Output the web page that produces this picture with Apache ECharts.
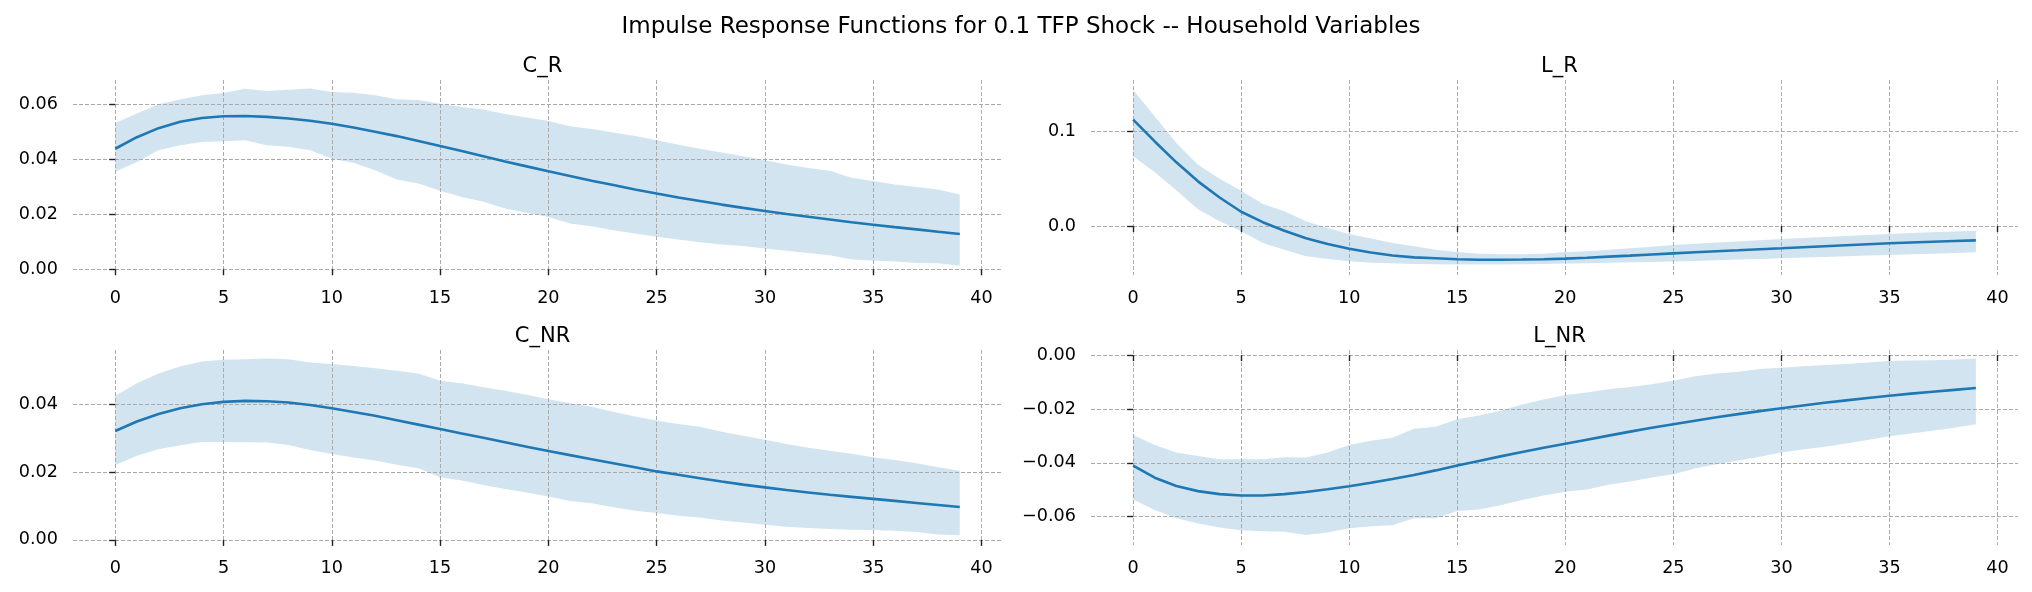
<!DOCTYPE html>
<html>
<head>
<meta charset="utf-8">
<script src="https://cdn.jsdelivr.net/npm/echarts@6/dist/echarts.min.js"></script>
<style>
html,body{margin:0;padding:0;background:#fff;}
#chart{width:2032px;height:592px;}
</style>
</head>
<body>
<div id="chart"></div>
<script>
const steps = [0,1,2,3,4,5,6,7,8,9,10,11,12,13,14,15,16,17,18,19,20,21,22,23,24,25,26,27,28,29,30,31,32,33,34,35,36,37,38,39];
const xTicks = [0,5,10,15,20,25,30,35,40];

const cR_mid = [0.0438,0.0480,0.0513,0.0536,0.0550,0.0556,0.0557,0.0554,0.0548,0.0540,0.0529,0.0515,0.0500,0.0484,0.0466,0.0448,0.0430,0.0411,0.0392,0.0374,0.0356,0.0339,0.0322,0.0306,0.0290,0.0275,0.0261,0.0248,0.0235,0.0223,0.0212,0.0201,0.0191,0.0181,0.0171,0.0162,0.0153,0.0145,0.0136,0.0128];
const cR_up = [0.0532,0.0566,0.0600,0.0617,0.0633,0.0641,0.0656,0.0648,0.0653,0.0657,0.0644,0.0642,0.0633,0.0618,0.0615,0.0602,0.0590,0.0581,0.0564,0.0552,0.0539,0.0520,0.0510,0.0497,0.0484,0.0469,0.0453,0.0438,0.0424,0.0411,0.0396,0.0381,0.0368,0.0358,0.0333,0.0321,0.0308,0.0299,0.0290,0.0272];
const cR_lo = [0.0354,0.0390,0.0433,0.0451,0.0463,0.0465,0.0469,0.0451,0.0445,0.0433,0.0402,0.0387,0.0360,0.0326,0.0312,0.0285,0.0263,0.0245,0.0221,0.0205,0.0190,0.0166,0.0156,0.0142,0.0130,0.0118,0.0108,0.0098,0.0090,0.0084,0.0075,0.0067,0.0059,0.0051,0.0035,0.0032,0.0028,0.0023,0.0022,0.0013];

const lR_mid = [0.112,0.089,0.067,0.047,0.030,0.015,0.004,-0.005,-0.013,-0.019,-0.024,-0.028,-0.031,-0.033,-0.034,-0.035,-0.0355,-0.0355,-0.0353,-0.0350,-0.0344,-0.0334,-0.0323,-0.0312,-0.0300,-0.0288,-0.0277,-0.0266,-0.0256,-0.0245,-0.0235,-0.0224,-0.0213,-0.0202,-0.0192,-0.0182,-0.0174,-0.0166,-0.0158,-0.0151];
const lR_up = [0.1435,0.1154,0.0874,0.0646,0.0498,0.0372,0.0232,0.0154,0.0049,-0.0021,-0.0084,-0.0133,-0.0179,-0.0214,-0.0249,-0.0274,-0.0291,-0.0298,-0.0298,-0.0291,-0.0274,-0.0265,-0.0250,-0.0235,-0.0218,-0.0200,-0.0188,-0.0175,-0.0162,-0.0150,-0.0137,-0.0126,-0.0116,-0.0105,-0.0094,-0.0084,-0.0075,-0.0066,-0.0057,-0.0049];
const lR_lo = [0.0733,0.0565,0.0375,0.0177,0.0049,-0.0056,-0.0179,-0.0249,-0.0319,-0.0347,-0.0372,-0.0386,-0.0393,-0.0400,-0.0404,-0.0405,-0.0405,-0.0405,-0.0404,-0.0401,-0.0396,-0.0392,-0.0388,-0.0383,-0.0379,-0.0375,-0.0368,-0.0361,-0.0354,-0.0347,-0.0340,-0.0333,-0.0326,-0.0319,-0.0312,-0.0305,-0.0298,-0.0291,-0.0284,-0.0277];

const cNR_mid = [0.0321,0.0349,0.0371,0.0388,0.0400,0.0407,0.0410,0.0409,0.0405,0.0398,0.0388,0.0377,0.0366,0.0353,0.0340,0.0327,0.0314,0.0301,0.0288,0.0275,0.0262,0.0250,0.0238,0.0226,0.0214,0.0202,0.0192,0.0182,0.0172,0.0163,0.0155,0.0147,0.0140,0.0133,0.0127,0.0121,0.0115,0.0109,0.0103,0.0097];
const cNR_up = [0.0425,0.0462,0.0491,0.0511,0.0526,0.0531,0.0533,0.0535,0.0533,0.0523,0.0519,0.0513,0.0506,0.0499,0.0491,0.0469,0.0462,0.0450,0.0440,0.0428,0.0415,0.0403,0.0393,0.0378,0.0364,0.0352,0.0342,0.0334,0.0319,0.0307,0.0295,0.0283,0.0272,0.0263,0.0254,0.0244,0.0236,0.0226,0.0214,0.0204];
const cNR_lo = [0.0221,0.0248,0.0267,0.0279,0.0289,0.0289,0.0288,0.0287,0.0280,0.0265,0.0253,0.0243,0.0234,0.0222,0.0211,0.0185,0.0175,0.0162,0.0150,0.0140,0.0128,0.0115,0.0108,0.0096,0.0086,0.0079,0.0071,0.0066,0.0057,0.0051,0.0045,0.0039,0.0035,0.0032,0.0030,0.0029,0.0027,0.0023,0.0016,0.0014];

const lNR_mid = [-0.0410,-0.0455,-0.0486,-0.0505,-0.0516,-0.0521,-0.0521,-0.0516,-0.0508,-0.0498,-0.0487,-0.0474,-0.0460,-0.0445,-0.0428,-0.0410,-0.0393,-0.0376,-0.0360,-0.0344,-0.0329,-0.0314,-0.0299,-0.0284,-0.0270,-0.0257,-0.0244,-0.0231,-0.0219,-0.0208,-0.0197,-0.0187,-0.0177,-0.0168,-0.0159,-0.0151,-0.0143,-0.0136,-0.0129,-0.0122];
const lNR_up = [-0.0297,-0.0334,-0.0362,-0.0375,-0.0387,-0.0387,-0.0387,-0.0379,-0.0380,-0.0362,-0.0334,-0.0318,-0.0307,-0.0273,-0.0266,-0.0238,-0.0224,-0.0207,-0.0183,-0.0165,-0.0148,-0.0139,-0.0127,-0.0118,-0.0108,-0.0095,-0.0078,-0.0068,-0.0062,-0.0052,-0.0047,-0.0041,-0.0037,-0.0033,-0.0027,-0.0022,-0.0020,-0.0019,-0.0016,-0.0013];
const lNR_lo = [-0.0536,-0.0575,-0.0606,-0.0625,-0.0640,-0.0650,-0.0654,-0.0656,-0.0668,-0.0659,-0.0643,-0.0635,-0.0632,-0.0606,-0.0606,-0.0579,-0.0573,-0.0557,-0.0538,-0.0521,-0.0507,-0.0499,-0.0481,-0.0469,-0.0454,-0.0442,-0.0421,-0.0405,-0.0391,-0.0377,-0.0362,-0.0350,-0.0340,-0.0328,-0.0315,-0.0301,-0.0291,-0.0281,-0.0270,-0.0257];

const panelTitles = ['C_R','L_R','C_NR','L_NR'];
const yTicks = [[0,0.02,0.04,0.06],[0,0.1],[0,0.02,0.04],[-0.06,-0.04,-0.02,0]];
const yDecimals = [2,1,2,2];
const yLimits = [[-0.0021,0.0688],[-0.0516,0.1537],[-0.0015,0.0560],[-0.0705,0.0019]];
const panels = [[cR_mid,cR_lo,cR_up],[lR_mid,lR_lo,lR_up],[cNR_mid,cNR_lo,cNR_up],[lNR_mid,lNR_lo,lNR_up]];

const FONT = 'DejaVu Sans';
const BLUE = '#1f77b4';
const gridRects = [
  {left:73, top:80, width:929, height:195},
  {left:1091, top:80, width:927, height:195},
  {left:73, top:350, width:929, height:195},
  {left:1091, top:350, width:927, height:195}
];

const option = {
  animation:false,
  backgroundColor:'#ffffff',
  title:[{
    text:'Impulse Response Functions for 0.1 TFP Shock -- Household Variables',
    left:1016, top:11, textAlign:'center',
    textStyle:{fontFamily:FONT,fontSize:23,fontWeight:'normal',color:'#000'}
  }].concat(panelTitles.map((t,k)=>({
    text:t,
    left:gridRects[k].left + gridRects[k].width/2,
    top:gridRects[k].top - 29,
    textAlign:'center',
    textStyle:{fontFamily:FONT,fontSize:21,fontWeight:'normal',color:'#000'}
  }))),
  grid:gridRects.map(r=>Object.assign({containLabel:false},r)),
  xAxis:gridRects.map((r,k)=>({
    type:'value', gridIndex:k, min:-1.95, max:40.95,
    axisLine:{show:false},
    axisTick:{show:true,length:6,lineStyle:{color:'#222',width:1.4},customValues:xTicks},
    axisLabel:{show:true,customValues:xTicks,margin:14,color:'#000',fontFamily:FONT,fontSize:17.6},
    splitLine:{show:true,lineStyle:{color:'#aaaaaa',width:1,type:[4,2]}}
  })),
  yAxis:gridRects.map((r,k)=>({
    type:'value', gridIndex:k, min:yLimits[k][0], max:yLimits[k][1],
    axisLine:{show:false},
    axisTick:{show:true,length:6,lineStyle:{color:'#222',width:1.4},customValues:yTicks[k]},
    axisLabel:{show:true,customValues:yTicks[k],margin:15,color:'#000',fontFamily:FONT,fontSize:17.6,
      formatter:v=>Number(v).toFixed(yDecimals[k]).replace('-','\u2212')},
    splitLine:{show:true,lineStyle:{color:'#aaaaaa',width:1,type:[4,2]}}
  })),
  series:[]
};

panels.forEach((p,k)=>{
  const mid=p[0], lo=p[1], up=p[2];
  option.series.push({
    type:'custom', xAxisIndex:k, yAxisIndex:k, silent:true, z:-1,
    encode:{x:0,y:[1,2]},
    data:steps.map((s,i)=>[s,lo[i],up[i]]),
    renderItem:function(params, api){
      if (params.dataIndex !== 0) return null;
      const pts = [];
      for (let i=0;i<steps.length;i++) pts.push(api.coord([steps[i], up[i]]));
      for (let i=steps.length-1;i>=0;i--) pts.push(api.coord([steps[i], lo[i]]));
      return {type:'polygon', shape:{points:pts}, style:{fill:'rgba(31,119,180,0.2)', stroke:null}};
    }
  });
  option.series.push({
    type:'line', xAxisIndex:k, yAxisIndex:k, z:3,
    symbol:'none', silent:true, lineStyle:{color:BLUE,width:2.6},
    data:steps.map((s,i)=>[s,mid[i]])
  });
});

const chart = echarts.init(document.getElementById('chart'),null,{renderer:'canvas'});
chart.setOption(option);
</script>
</body>
</html>
